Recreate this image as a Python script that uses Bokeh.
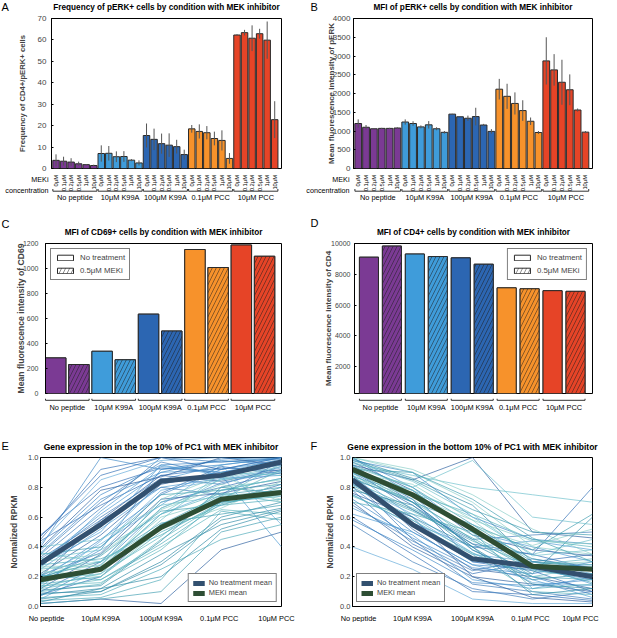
import numpy as np
from bokeh.plotting import figure
from bokeh.models import Range1d, FixedTicker, Legend, LegendItem, PrintfTickFormatter
from bokeh.layouts import column, row
from bokeh.embed import file_html
from bokeh.resources import INLINE
from bokeh.core.properties import value

FONT = "Liberation Sans"

# ---------------- data ----------------
groups = ["No peptide", "10μM K99A", "100μM K99A", "0.1μM PCC", "10μM PCC"]
group_colors = ["#7B3A94", "#3F9CDA", "#2C66B2", "#F7922B", "#E64427"]
meki_conc = ["0μM", "0.1μM", "0.2μM", "0.5μM", "1μM", "10μM"]

perk_freq = [3.8, 3.4, 3.0, 2.2, 1.8, 1.4,
             7.0, 7.1, 5.5, 5.6, 3.9, 2.6,
             15.4, 13.6, 11.6, 10.9, 10.2, 6.5,
             18.5, 17.3, 16.7, 14.0, 13.1, 4.7,
             62.3, 63.4, 60.8, 62.9, 59.9, 22.8]
perk_freq_err = [2.8, 2.1, 1.8, 1.0, 0.3, 0.4,
                 3.8, 3.4, 2.5, 2.5, 0.5, 1.2,
                 5.6, 5.0, 4.7, 5.5, 3.2, 2.3,
                 1.8, 3.3, 3.1, 3.2, 4.7, 2.5,
                 0.4, 1.3, 6.0, 2.3, 8.7, 8.6]
perk_mfi = [1200, 1100, 1060, 1070, 1070, 1080,
            1240, 1200, 1110, 1165, 1060, 965,
            1450, 1380, 1340, 1385, 1160, 990,
            2115, 1925, 1735, 1545, 1260, 960,
            2870, 2630, 2300, 2100, 1560, 970]
perk_mfi_err = [110, 60, 20, 15, 15, 20,
                70, 60, 40, 100, 40, 35,
                10, 10, 70, 235, 30, 60,
                275, 335, 295, 275, 100, 40,
                630, 420, 600, 410, 40, 30]

cd69_no_treatment = [285, 338, 635, 1152, 1188]
cd69_meki = [232, 270, 500, 1008, 1098]
cd4_no_treatment = [9110, 9316, 9067, 7119, 6933]
cd4_meki = [9834, 9150, 8653, 7057, 6891]

stages = ["No peptide", "10μM K99A", "100μM K99A", "0.1μM PCC", "10μM PCC"]
top_no_treatment_mean = [0.29, 0.55, 0.84, 0.88, 0.97]
top_meki_mean = [0.18, 0.25, 0.53, 0.72, 0.765]
bottom_no_treatment_mean = [0.85, 0.55, 0.32, 0.27, 0.20]
bottom_meki_mean = [0.92, 0.75, 0.52, 0.27, 0.25]

top_genes_no_treatment = [
    [0.45, 0.92, 1.00, 1.00, 1.00], [0.38, 0.75, 0.95, 0.97, 1.00],
    [0.30, 0.62, 0.90, 0.92, 0.98], [0.22, 0.48, 0.82, 0.90, 0.96],
    [0.15, 0.40, 0.78, 0.85, 0.93], [0.35, 0.70, 0.97, 0.88, 0.95],
    [0.10, 0.30, 0.70, 0.80, 0.90], [0.40, 1.00, 0.92, 0.95, 1.00],
    [0.27, 0.55, 0.85, 0.95, 1.00], [0.20, 0.58, 0.88, 0.84, 0.92],
    [0.05, 0.25, 0.62, 0.78, 0.86], [0.33, 0.66, 1.00, 0.97, 0.99],
    [0.48, 0.80, 0.93, 0.90, 0.96], [0.18, 0.45, 0.75, 0.92, 1.00],
    [0.25, 0.52, 0.80, 0.86, 0.88], [0.12, 0.35, 0.72, 0.76, 0.84],
    [0.42, 0.85, 0.98, 1.00, 0.97], [0.30, 0.60, 0.86, 0.82, 0.94],
    [0.08, 0.20, 0.55, 0.70, 0.82], [0.36, 0.72, 0.90, 0.99, 1.00],
    [0.28, 0.50, 0.95, 0.88, 0.40], [0.02, 0.05, 0.02, 0.38, 0.50],
    [0.20, 0.42, 0.68, 0.95, 0.55], [0.32, 0.58, 0.80, 0.75, 0.98],
    [0.44, 0.68, 0.88, 0.93, 0.91], [0.16, 0.38, 0.92, 0.98, 0.95],
    [0.26, 0.64, 0.94, 0.90, 0.99], [0.39, 0.78, 0.87, 1.00, 0.95],
    [0.13, 0.44, 0.83, 0.87, 0.97], [0.21, 0.36, 0.76, 0.94, 0.89],
    [0.47, 0.88, 1.00, 0.92, 1.00], [0.07, 0.28, 0.66, 0.83, 0.91],
]
top_genes_meki = [
    [0.20, 0.25, 0.55, 0.75, 0.80], [0.10, 0.15, 0.45, 0.70, 0.75],
    [0.30, 0.35, 0.65, 0.80, 0.85], [0.05, 0.10, 0.30, 0.60, 0.70],
    [0.25, 0.30, 0.70, 0.85, 0.90], [0.15, 0.20, 0.50, 0.68, 0.72],
    [0.35, 0.40, 0.75, 0.78, 0.82], [0.12, 0.18, 0.40, 0.65, 0.62],
    [0.22, 0.28, 0.60, 0.72, 0.78], [0.08, 0.12, 0.35, 0.55, 0.65],
    [0.18, 0.22, 0.58, 0.90, 0.88], [0.28, 0.32, 0.48, 0.70, 0.74],
    [0.02, 0.05, 0.10, 0.50, 0.60], [0.16, 0.26, 0.62, 0.76, 0.70],
    [0.24, 0.20, 0.52, 0.66, 0.84], [0.11, 0.14, 0.44, 0.80, 0.76],
    [0.40, 0.45, 0.68, 0.74, 0.78], [0.06, 0.08, 0.25, 0.45, 0.55],
    [0.20, 0.30, 0.56, 0.62, 0.68], [0.14, 0.16, 0.38, 0.72, 0.92],
    [0.26, 0.24, 0.66, 0.82, 0.72], [0.09, 0.10, 0.28, 0.58, 0.66],
    [0.32, 0.38, 0.62, 0.86, 0.94], [0.04, 0.06, 0.18, 0.64, 0.58],
    [0.19, 0.34, 0.64, 0.68, 0.80], [0.13, 0.22, 0.47, 0.78, 0.86],
    [0.27, 0.27, 0.72, 0.88, 0.70], [0.03, 0.12, 0.20, 0.52, 0.64],
    [0.36, 0.30, 0.54, 0.74, 0.96], [0.21, 0.18, 0.42, 0.69, 0.76],
]
bottom_genes_no_treatment = [
    [0.95, 0.70, 0.40, 0.35, 0.25], [0.80, 0.50, 0.28, 0.25, 0.18],
    [1.00, 0.80, 0.50, 0.40, 0.30], [0.70, 0.40, 0.20, 0.15, 0.10],
    [0.90, 0.60, 0.35, 0.30, 0.22], [0.85, 0.45, 0.15, 0.10, 0.05],
    [0.60, 0.35, 0.10, 0.08, 0.04], [0.98, 0.90, 0.60, 0.45, 0.42],
    [0.75, 0.55, 0.30, 0.28, 0.15], [0.88, 0.52, 0.25, 0.20, 0.12],
    [0.40, 0.25, 0.05, 0.02, 0.02], [0.92, 0.65, 0.45, 0.48, 0.50],
    [0.78, 0.42, 0.22, 0.30, 0.35], [1.00, 0.75, 0.38, 0.20, 0.08],
    [0.66, 0.48, 0.18, 0.12, 0.20], [0.95, 0.85, 1.00, 0.50, 0.46],
    [0.83, 0.58, 0.32, 0.26, 0.28], [0.55, 0.30, 0.12, 0.05, 0.10],
    [0.90, 0.68, 0.42, 0.35, 0.80], [0.72, 0.46, 0.26, 0.22, 0.30],
    [0.62, 0.50, 0.28, 0.18, 0.06], [0.97, 0.78, 0.48, 0.38, 0.34],
    [0.82, 0.62, 0.36, 0.16, 0.14], [0.68, 0.44, 0.24, 0.32, 0.26],
    [0.94, 0.72, 0.30, 0.24, 0.10], [0.58, 0.38, 0.16, 0.14, 0.18],
    [0.88, 0.56, 0.40, 0.44, 0.38], [0.76, 0.60, 0.20, 0.06, 0.03],
]
bottom_genes_meki = [
    [0.95, 0.80, 0.55, 0.30, 0.28], [0.88, 0.70, 0.48, 0.25, 0.22],
    [1.00, 0.90, 0.70, 0.40, 0.35], [0.80, 0.60, 0.40, 0.15, 0.12],
    [0.92, 0.78, 0.60, 0.35, 0.45], [0.85, 0.72, 0.45, 0.20, 0.18],
    [0.98, 0.85, 0.65, 0.50, 0.48], [0.75, 0.55, 0.35, 0.10, 0.08],
    [0.90, 0.82, 0.58, 0.28, 0.30], [0.82, 0.65, 0.42, 0.22, 0.60],
    [0.96, 0.88, 0.80, 0.75, 0.70], [0.70, 0.62, 0.50, 0.12, 0.15],
    [0.93, 0.74, 0.52, 0.32, 0.25], [0.87, 0.76, 0.62, 0.45, 0.40],
    [1.00, 0.92, 0.75, 0.52, 0.35], [0.78, 0.68, 0.38, 0.18, 0.22],
    [0.94, 0.80, 0.98, 0.60, 0.55], [0.84, 0.66, 0.46, 0.24, 0.20],
    [0.91, 0.70, 0.55, 0.38, 0.62], [0.89, 0.78, 0.50, 0.28, 0.32],
    [0.86, 0.74, 0.58, 0.44, 0.42], [0.99, 0.86, 0.68, 0.30, 0.26],
    [0.97, 0.84, 0.62, 0.34, 0.38], [0.81, 0.64, 0.44, 0.27, 0.16],
    [0.92, 0.90, 0.72, 0.46, 0.30], [0.74, 0.58, 0.36, 0.20, 0.27],
    [0.90, 0.76, 0.53, 0.41, 0.52], [0.86, 0.70, 0.40, 0.08, 0.12],
]

blue_palette = ["#2E6DB4", "#3C86C6", "#4C9AD2", "#2A5E9E", "#5FA8D8", "#3B7BB8"]
teal_palette = ["#3E9DB0", "#5BB5BE", "#86CCC6", "#2F8AA6", "#6CBFCB", "#4AA8B8"]
mean_colors = ["#32506F", "#2E4E34"]

LEFT_W, RIGHT_W = 298, 303


# ---------------- helpers ----------------
def base_fig(w, h, bl, br, bt, bb, xr, yr, axes=True):
    kw = dict(width=w, height=h, x_range=xr, y_range=yr, output_backend="svg",
              toolbar_location=None, min_border_left=bl, min_border_right=br,
              min_border_top=bt, min_border_bottom=bb, title=None, frame_align=False)
    if not axes:
        kw.update(x_axis_location=None, y_axis_location=None)
    p = figure(**kw)
    p.grid.visible = False
    p.outline_line_color = "black" if axes else None
    p.outline_line_width = 1
    p.background_fill_color = "white"
    p.border_fill_color = "white"
    return p


def style_y(p, ticks, tick_size, label, label_size, tick_standoff, label_standoff, fmt=None):
    ax = p.yaxis[0]
    ax.ticker = FixedTicker(ticks=ticks)
    ax.axis_label = label
    ax.axis_label_text_font = FONT
    ax.axis_label_text_font_size = f"{label_size}px"
    ax.axis_label_text_font_style = "bold"
    ax.axis_label_standoff = label_standoff
    ax.major_label_text_font = FONT
    ax.major_label_text_font_size = f"{tick_size}px"
    ax.major_label_standoff = tick_standoff
    ax.major_tick_in = 2
    ax.major_tick_out = 0
    ax.minor_tick_line_color = None
    ax.axis_line_color = "black"
    if fmt:
        ax.formatter = PrintfTickFormatter(format=fmt)


def txt(p, x, y, text, size, bold=False, align="left", baseline="middle", angle=0.0,
        x_offset=0, lh=1.2):
    n = len(text) if isinstance(text, list) else 1
    p.text(x=x if isinstance(x, (list, np.ndarray)) else [x] * n,
           y=y if isinstance(y, (list, np.ndarray)) else [y] * n,
           text=text if isinstance(text, list) else [text],
           x_offset=x_offset, angle=angle,
           text_font=value(FONT), text_font_size=f"{size}px",
           text_font_style="bold" if bold else "normal",
           text_align=align, text_baseline=baseline, text_color="black",
           text_line_height=lh)


def header_fig(w, h, letter, letter_x, letter_y, title, title_x, title_y, title_size):
    p = base_fig(w, h, 0, 0, 0, 0, Range1d(0, w), Range1d(0, h), axes=False)
    txt(p, letter_x, letter_y, letter, 11)
    txt(p, title_x, title_y, title, title_size, bold=True, align="center")
    return p


def under_fig(w, h, bl, br, fw, xr):
    k = (xr.end - xr.start) / fw
    p = base_fig(w, h, 0, 0, 0, 0, Range1d(xr.start - bl * k, xr.end + br * k),
                 Range1d(0, h), axes=False)
    return p, k


def brackets(p, starts, ends, y_line, y_hook):
    starts = np.asarray(starts, dtype=float)
    ends = np.asarray(ends, dtype=float)
    yl = [y_line] * len(starts)
    yh = [y_hook] * len(starts)
    p.segment(x0=starts, y0=yl, x1=ends, y1=yl, line_color="#333333", line_width=1)
    p.segment(x0=starts, y0=yl, x1=starts, y1=yh, line_color="#333333", line_width=1)
    p.segment(x0=ends, y0=yl, x1=ends, y1=yh, line_color="#333333", line_width=1)
    return (starts + ends) / 2


# ---------------- A & B: bars with error bars ----------------
n_per = len(meki_conc)
bar_x = list(range(len(groups) * n_per))
bar_colors = [c for c in group_colors for _ in meki_conc]


def perk_panel(w, bl, br, vals, errs, ymax, yticks, ylabel, ylab_size, tick_standoff,
               lab_standoff, title, letter, letter_x, meki_px):
    h, bt, bb = 160, 5, 5
    xr = Range1d(-0.6, 29.9)
    p = base_fig(w, h, bl, br, bt, bb, xr, Range1d(0, ymax))
    fw = w - bl - br
    v = np.asarray(vals, dtype=float)
    e = np.asarray(errs, dtype=float)
    p.vbar(x=bar_x, top=v, width=0.86, fill_color=bar_colors,
           line_color="#2a2a2a", line_width=1)
    p.segment(x0=bar_x, y0=v - e, x1=bar_x, y1=v + e, line_color="#555555", line_width=1)
    style_y(p, yticks, 8, ylabel, ylab_size, tick_standoff, lab_standoff)
    p.xaxis.visible = False

    hdr = header_fig(w, 13, letter, letter_x, 7, title, bl + fw / 2, 6.2, 8.2)

    lh = 30
    u, k = under_fig(w, lh, bl, br, fw, xr)
    txt(u, bar_x, lh - 1.5, [meki_conc[i % n_per] for i in bar_x], 5.8,
        align="right", baseline="middle", angle=np.pi / 2)
    txt(u, xr.start - bl * k + meki_px * k, lh - 1, "MEKi\nconcentration", 7.2,
        align="right", baseline="top", lh=1.3)
    starts = [g * n_per - 0.42 for g in range(len(groups))]
    ends = [g * n_per + n_per - 1 + 0.42 for g in range(len(groups))]
    centers = brackets(u, starts, ends, 12.3, 14.5)
    txt(u, list(centers), 5.6, groups, 7.4, align="center")
    return hdr, p, u


hA, pA, uA = perk_panel(LEFT_W, 51, 17, perk_freq, perk_freq_err, 70, list(range(0, 71, 10)),
                        "Frequency of CD4+/pERK+ cells", 7.7, 5, 8,
                        "Frequency of pERK+ cells by condition with MEK inhibitor", "A", 1, 48)
hB, pB, uB = perk_panel(RIGHT_W, 55, 9, perk_mfi, perk_mfi_err, 4000, list(range(0, 4001, 500)),
                        "Mean fluorescence intensity of pERK", 8, 3, -6,
                        "MFI of pERK+ cells by condition with MEK inhibitor", "B", 12, 51)


# ---------------- C & D: paired bars ----------------
def pair_panel(w, bl, br, xr, bw, no_vals, meki_vals, yr, yticks, tick_size, tick_standoff,
               ylabel, ylab_size, lab_standoff, title, letter, letter_x, letter_y, legend_loc):
    h, bt, bb = 160, 5, 5
    p = base_fig(w, h, bl, br, bt, bb, xr, yr)
    fw = w - bl - br
    xi = np.arange(len(groups)) * 2
    hatch = dict(hatch_pattern="/", hatch_color="#1e1e1e", hatch_alpha=0.85,
                 hatch_scale=8, hatch_weight=0.6)
    # white under-layer bars (they also serve as legend swatches)
    r1 = p.vbar(x=xi, top=no_vals, width=bw, fill_color="white",
                line_color="#2a2a2a", line_width=1)
    r2 = p.vbar(x=xi + 1, top=meki_vals, width=bw, fill_color="white",
                line_color="#2a2a2a", line_width=1, **hatch)
    p.vbar(x=xi, top=no_vals, width=bw, fill_color=group_colors,
           line_color="#2a2a2a", line_width=1)
    p.vbar(x=xi + 1, top=meki_vals, width=bw, fill_color=group_colors,
           line_color="#2a2a2a", line_width=1, **hatch)
    leg = Legend(items=[LegendItem(label="No treatment", renderers=[r1], index=0),
                        LegendItem(label="0.5μM MEKi", renderers=[r2], index=0)],
                 location=legend_loc, margin=5, padding=4, spacing=4,
                 glyph_width=20, glyph_height=7, label_height=9, label_standoff=5,
                 label_text_font=FONT, label_text_font_size="7.8px",
                 border_line_color="black", border_line_width=1,
                 background_fill_color="white", background_fill_alpha=1)
    p.add_layout(leg)
    style_y(p, yticks, tick_size, ylabel, ylab_size, tick_standoff, lab_standoff)
    p.xaxis.visible = False

    hdr = header_fig(w, 35, letter, letter_x, letter_y, title, bl + fw / 2, 5.8, 8.2)

    lh = 14
    u, k = under_fig(w, lh, bl, br, fw, xr)
    starts = [2 * g - bw / 2 for g in range(len(groups))]
    ends = [2 * g + 1 + bw / 2 for g in range(len(groups))]
    centers = brackets(u, starts, ends, 12.2, 14)
    txt(u, list(centers), 5.5, groups, 7.4, align="center")
    return hdr, p, u


hC, pC, uC = pair_panel(LEFT_W, 45, 17, Range1d(-0.44, 9.73), 0.88, cd69_no_treatment, cd69_meki,
                        Range1d(0, 1200), list(range(0, 1201, 200)), 7, 7,
                        "Mean fluorescence intensity of CD69", 8.6, -6,
                        "MFI of CD69+ cells by condition with MEK inhibitor", "C", 1, 15,
                        "top_left")
hD, pD, uD = pair_panel(RIGHT_W, 56, 9, Range1d(-0.63, 9.74), 0.83, cd4_no_treatment, cd4_meki,
                        Range1d(250, 10000), list(range(2000, 10001, 2000)), 7, 4,
                        "Mean fluorescence intensity of CD4", 8, -5,
                        "MFI of CD4+ cells by condition with MEK inhibitor", "D", 12, 16,
                        "top_right")


# ---------------- E & F: gene expression lines ----------------
def gene_panel(w, bl, br, genes_no, genes_meki, mean_no, mean_meki, lab_standoff,
               title, letter, letter_x, legend_loc, label_offsets):
    h, bt, bb = 159, 5, 5
    xr = Range1d(0, len(stages) - 1)
    p = base_fig(w, h, bl, br, bt, bb, xr, Range1d(0, 1))
    fw = w - bl - br
    sx = list(range(len(stages)))
    p.multi_line(xs=[sx] * len(genes_no), ys=genes_no,
                 line_color=[blue_palette[i % len(blue_palette)] for i in range(len(genes_no))],
                 line_alpha=0.75, line_width=0.9)
    p.multi_line(xs=[sx] * len(genes_meki), ys=genes_meki,
                 line_color=[teal_palette[i % len(teal_palette)] for i in range(len(genes_meki))],
                 line_alpha=0.75, line_width=0.9)
    p.line(sx, mean_no, line_color=mean_colors[0], line_width=5, legend_label="No treatment mean")
    p.line(sx, mean_meki, line_color=mean_colors[1], line_width=5, legend_label="MEKi mean")
    lg = p.legend[0]
    lg.location = legend_loc
    lg.margin = 4
    lg.padding = 4
    lg.spacing = 1
    lg.glyph_width = 12
    lg.glyph_height = 8
    lg.label_height = 8
    lg.label_standoff = 4
    lg.label_text_font = FONT
    lg.label_text_font_size = "7.4px"
    lg.border_line_color = "black"
    lg.border_line_width = 1
    lg.background_fill_alpha = 1
    style_y(p, [0.0, 0.2, 0.4, 0.6, 0.8, 1.0], 7.5, "Normalized RPKM", 8.5, 2, lab_standoff,
            fmt="%.1f")
    p.xaxis.visible = False

    hdr = header_fig(w, 40, letter, letter_x, 7, title, bl + fw / 2, 5.5, 8.5)

    lh = 11
    u, k = under_fig(w, lh, bl, br, fw, xr)
    txt(u, sx, 5.5, stages, 7.4, align="center", x_offset=label_offsets)
    return hdr, p, u


hE, pE, uE = gene_panel(LEFT_W, 40, 17, top_genes_no_treatment, top_genes_meki,
                        top_no_treatment_mean, top_meki_mean, 6,
                        "Gene expression in the top 10% of PC1 with MEK inhibitor", "E", 1,
                        "bottom_right", [6, 0, 0, -2, -5])
hF, pF, uF = gene_panel(RIGHT_W, 54, 9, bottom_genes_no_treatment, bottom_genes_meki,
                        bottom_no_treatment_mean, bottom_meki_mean, 2,
                        "Gene expression in the bottom 10% of PC1 with MEK inhibitor", "F", 12,
                        "bottom_left", [6, 0, 0, -2, -12])

layout = row(column(hA, pA, uA, hC, pC, uC, hE, pE, uE),
             column(hB, pB, uB, hD, pD, uD, hF, pF, uF))

with open("out.html", "w") as f:
    f.write(file_html(layout, INLINE))
